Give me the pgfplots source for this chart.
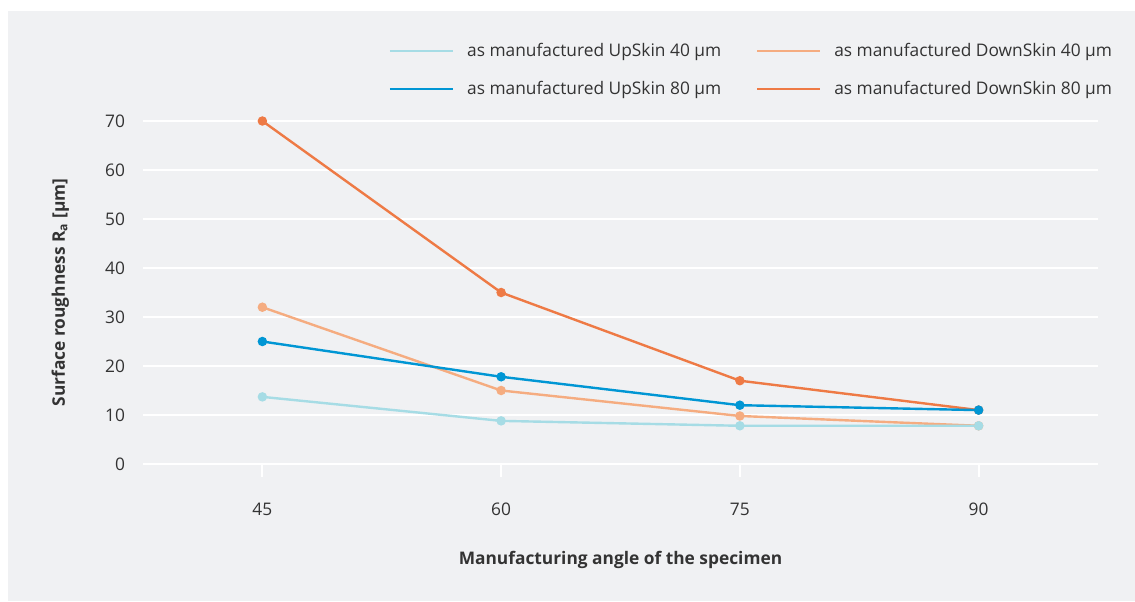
\documentclass[border=0pt]{standalone}
\usepackage{fontspec}
\setmainfont{Open Sans}
\usepackage{pgfplots}
\pgfplotsset{compat=1.18}

\definecolor{panel}{HTML}{F0F1F3}
\definecolor{txt}{HTML}{333333}
\definecolor{upA}{HTML}{A6DCE5}
\definecolor{upB}{HTML}{0096D4}
\definecolor{dnA}{HTML}{F5AC80}
\definecolor{dnB}{HTML}{EE7A45}

\begin{document}
\begin{tikzpicture}
% page = 1135 x 601 px, 1 px = 0.75 pt
\fill[white] (0,0) rectangle (851.25pt,450.75pt);
\fill[panel] (6pt,0) rectangle (851.25pt,442.5pt);
\begin{axis}[
    at={(107.25pt,102.75pt)}, anchor=south west,
    scale only axis, width=716.25pt, height=257.25pt,
    xmin=37.5, xmax=97.5, ymin=0, ymax=70,
    clip=false,
    font=\fontsize{13}{15}\selectfont, text=txt,
    axis lines=left,
    axis line style={-},
    y axis line style={draw=none},
    x axis line style={white, line width=2.2pt},
    xtick={45,60,75,90}, ytick={0,10,...,70},
    tick align=outside,
    x tick style={white, line width=1.5pt},
    major tick length=10pt,
    y tick style={draw=none},
    ymajorgrids, grid style={white, line width=1.1pt},
    xticklabel style={yshift=-16pt},
    /pgf/number format/assume math mode=true,
    xlabel={\bfseries Manufacturing angle of the specimen},
    xlabel style={at={(axis description cs:0.5,0)}, anchor=center, yshift=-72pt},
    ylabel={Surface roughness R\textsubscript{a} [µm]},
    ylabel style={at={(axis description cs:0,0.5)}, anchor=center, yshift=62pt, font=\fontsize{13}{15}\selectfont\bfseries},
    legend columns=2,
    legend style={draw=none, fill=none, at={(axis description cs:1.022,1.242)}, anchor=north east,
        font=\fontsize{13}{15}\selectfont, text=txt,
        /tikz/every even column/.append style={column sep=24pt},
        row sep=13pt},
    legend cell align=left,
    legend image code/.code={\draw[#1, mark=none] (0pt,0pt) -- (47pt,0pt); \path (55pt,0pt);},
    every axis plot/.append style={line width=1.8pt, mark=*, mark size=2.6pt},
]
\addlegendimage{upA}
\addlegendentry{as manufactured UpSkin 40 µm}
\addlegendimage{dnA}
\addlegendentry{as manufactured DownSkin 40 µm}
\addlegendimage{upB}
\addlegendentry{as manufactured UpSkin 80 µm}
\addlegendimage{dnB}
\addlegendentry{as manufactured DownSkin 80 µm}

\addplot[dnB, mark options={fill=dnB}, forget plot] coordinates {(45,70) (60,35) (75,17) (90,11)};
\addplot[dnA, mark options={fill=dnA}, forget plot] coordinates {(45,32) (60,15) (75,9.8) (90,7.8)};
\addplot[upB, mark options={fill=upB}, forget plot] coordinates {(45,25) (60,17.8) (75,12) (90,11)};
\addplot[upA, mark options={fill=upA}, forget plot] coordinates {(45,13.7) (60,8.8) (75,7.8) (90,7.8)};
\end{axis}
\end{tikzpicture}
\end{document}
